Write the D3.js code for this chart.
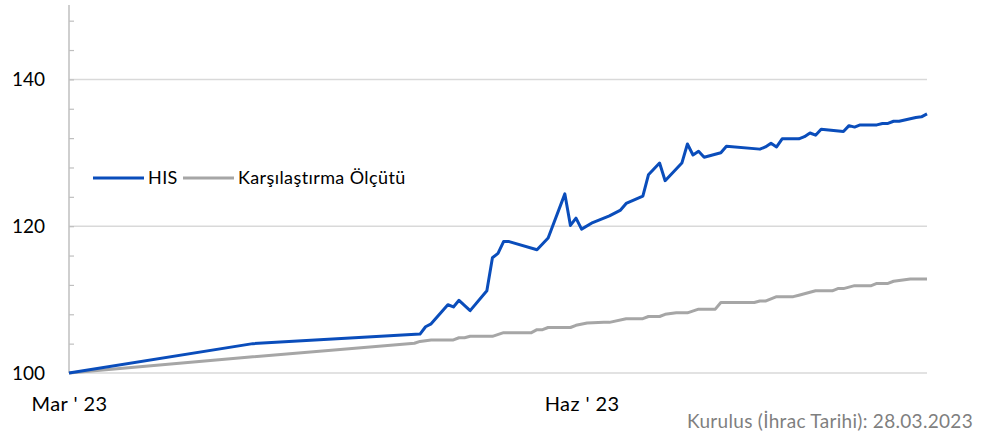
<!DOCTYPE html>
<html>
<head>
<meta charset="utf-8">
<script src="https://cdn.jsdelivr.net/npm/d3@7"></script>
<style>
  body { margin: 0; background: #fff; }
  svg text { font-family: Lato, "Open Sans", sans-serif; }
</style>
</head>
<body>
<div id="chart"></div>
<script>
const hisDates = ["2023-03-28","2023-04-30","2023-05-30","2023-05-31","2023-06-01","2023-06-04","2023-06-05",
  "2023-06-06","2023-06-08","2023-06-11","2023-06-12","2023-06-13","2023-06-14","2023-06-15","2023-06-20",
  "2023-06-22","2023-06-25","2023-06-26","2023-06-27","2023-06-28","2023-06-30","2023-07-03","2023-07-05",
  "2023-07-06","2023-07-09","2023-07-10","2023-07-12","2023-07-13","2023-07-16","2023-07-17","2023-07-18",
  "2023-07-19","2023-07-20","2023-07-23","2023-07-24","2023-07-30","2023-07-31","2023-08-01","2023-08-02",
  "2023-08-03","2023-08-06","2023-08-07","2023-08-08","2023-08-09","2023-08-10","2023-08-14","2023-08-15",
  "2023-08-16","2023-08-17","2023-08-20","2023-08-21","2023-08-22","2023-08-23","2023-08-24","2023-08-27",
  "2023-08-28","2023-08-29"];
const hisValues = [100, 104.0, 105.3, 106.3, 106.7, 109.3, 109.0,
  109.9, 108.5, 111.2, 115.7, 116.3, 117.9, 117.9, 116.8,
  118.4, 124.4, 120.1, 121.1, 119.6, 120.5, 121.4, 122.2,
  123.1, 124.1, 127.0, 128.6, 126.2, 128.6, 131.2, 129.7,
  130.2, 129.4, 130.0, 130.9, 130.5, 130.8, 131.3, 130.8,
  131.9, 131.9, 132.2, 132.7, 132.4, 133.2, 132.9, 133.7,
  133.5, 133.8, 133.8, 134.0, 134.0, 134.3, 134.3, 134.8,
  134.9, 135.3];

const benchDates = ["2023-03-28","2023-04-30","2023-05-29","2023-05-30","2023-06-01","2023-06-05","2023-06-06",
  "2023-06-07","2023-06-08","2023-06-12","2023-06-14","2023-06-19","2023-06-20","2023-06-21","2023-06-22",
  "2023-06-26","2023-06-27","2023-06-29","2023-07-02","2023-07-03","2023-07-06","2023-07-09","2023-07-10",
  "2023-07-12","2023-07-13","2023-07-15","2023-07-17","2023-07-19","2023-07-22","2023-07-23","2023-07-29",
  "2023-07-30","2023-07-31","2023-08-02","2023-08-05","2023-08-06","2023-08-07","2023-08-09","2023-08-12",
  "2023-08-13","2023-08-14","2023-08-16","2023-08-19","2023-08-20","2023-08-22","2023-08-23","2023-08-25",
  "2023-08-26","2023-08-29"];
const benchValues = [100, 102.2, 104.05, 104.3, 104.5, 104.5, 104.8,
  104.8, 105.0, 105.0, 105.5, 105.5, 105.9, 105.9, 106.2,
  106.2, 106.5, 106.8, 106.9, 106.9, 107.4, 107.4, 107.7,
  107.7, 108.0, 108.2, 108.2, 108.7, 108.7, 109.6, 109.6,
  109.8, 109.8, 110.4, 110.4, 110.6, 110.8, 111.2, 111.2,
  111.5, 111.5, 111.9, 111.9, 112.2, 112.2, 112.5, 112.7,
  112.8, 112.8];

const seriesNames = ["HIS", "Karşılaştırma Ölçütü"];
const seriesColors = ["#0a4dbb", "#a6a6a6"];
const xTickDates = ["2023-03-28", "2023-06-28"];
const xTickLabels = ["Mar ' 23", "Haz ' 23"];
const yLabelTicks = [100, 120, 140];
const yMinorTicks = d3.range(104, 150, 4);
const footnote = "Kurulus (İhrac Tarihi): 28.03.2023";

const W = 992, H = 432;
const margin = {left: 69, right: 927, top: 6, bottom: 373};
const parse = d3.timeParse("%Y-%m-%d");

const svg = d3.select("#chart").append("svg")
  .attr("width", W).attr("height", H);

const x = d3.scaleTime()
  .domain([parse(hisDates[0]), parse(hisDates[hisDates.length - 1])])
  .range([margin.left, margin.right]);
const y = d3.scaleLinear().domain([100, 150]).range([margin.bottom, margin.top]);

// gridlines
svg.append("g")
  .selectAll("line")
  .data(yLabelTicks)
  .join("line")
  .attr("x1", margin.left).attr("x2", margin.right)
  .attr("y1", d => y(d)).attr("y2", d => y(d))
  .attr("stroke", "#d9d9d9").attr("stroke-width", 1.5);

// minor ticks on y axis
const yMinor = svg.append("g")
  .attr("transform", `translate(${margin.left},0)`)
  .call(d3.axisRight(y).tickValues(yMinorTicks).tickSize(5).tickFormat(""));
yMinor.select(".domain").remove();
yMinor.selectAll("line").attr("stroke", "#bfbfbf").attr("stroke-width", 1.2);

// y axis line
svg.append("line")
  .attr("x1", margin.left).attr("x2", margin.left)
  .attr("y1", margin.top - 1).attr("y2", margin.bottom)
  .attr("stroke", "#bfbfbf").attr("stroke-width", 1.5);

// y labels
const yAxis = svg.append("g")
  .attr("transform", `translate(${margin.left},0)`)
  .call(d3.axisLeft(y).tickValues(yLabelTicks).tickSize(0).tickPadding(24).tickFormat(d3.format("d")));
yAxis.select(".domain").remove();
yAxis.selectAll("text")
  .attr("font-size", 19).attr("fill", "#000")
  .style("font-family", "Lato, sans-serif");

// x labels
const xAxis = svg.append("g")
  .attr("transform", `translate(0,${margin.bottom})`)
  .call(d3.axisBottom(x).tickValues(xTickDates.map(parse)).tickSize(0).tickPadding(24)
    .tickFormat((d, i) => xTickLabels[i]));
xAxis.select(".domain").remove();
xAxis.selectAll("text")
  .attr("font-size", 20).attr("fill", "#000")
  .attr("letter-spacing", 0.4)
  .style("font-family", "Lato, sans-serif");

// lines
const line = d3.line().x(d => x(d.date)).y(d => y(d.value));
const series = [
  hisDates.map((d, i) => ({date: parse(d), value: hisValues[i]})),
  benchDates.map((d, i) => ({date: parse(d), value: benchValues[i]}))
];

svg.append("path")
  .datum(series[1])
  .attr("fill", "none")
  .attr("stroke", seriesColors[1])
  .attr("stroke-width", 3)
  .attr("stroke-linejoin", "round")
  .attr("d", line);

svg.append("path")
  .datum(series[0])
  .attr("fill", "none")
  .attr("stroke", seriesColors[0])
  .attr("stroke-width", 3)
  .attr("stroke-linejoin", "round")
  .attr("d", line);

// legend
const legend = svg.append("g").attr("transform", "translate(93,178)");
const legendX = [0, 90];
seriesNames.forEach((name, i) => {
  const g = legend.append("g").attr("transform", `translate(${legendX[i]},0)`);
  g.append("line")
    .attr("x1", 0).attr("x2", 51)
    .attr("stroke", seriesColors[i]).attr("stroke-width", 3);
  g.append("text")
    .attr("x", 55).attr("dy", "0.35em")
    .attr("font-size", 18).attr("letter-spacing", 0.4).attr("fill", "#000")
    .text(name);
});

// footnote
svg.append("text")
  .attr("x", 973).attr("y", 428)
  .attr("text-anchor", "end")
  .attr("font-size", 19).attr("letter-spacing", 0.3).attr("fill", "#7f7f7f")
  .text(footnote);
</script>
</body>
</html>
